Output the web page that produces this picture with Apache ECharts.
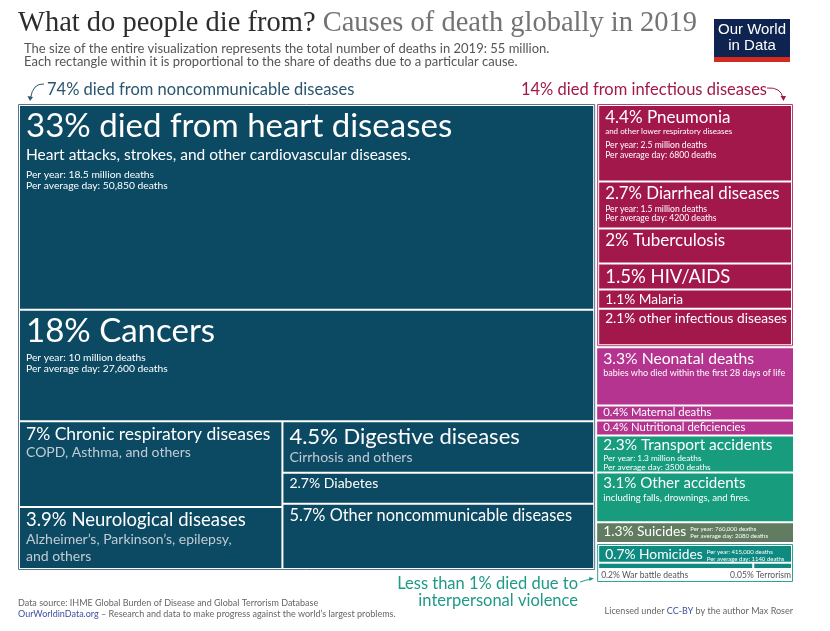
<!DOCTYPE html>
<html>
<head>
<meta charset="utf-8">
<script src="https://cdn.jsdelivr.net/npm/echarts@6/dist/echarts.min.js"></script>
<style>
  html, body { margin: 0; padding: 0; background: #fff; }
  #main { width: 830px; height: 631px; }
</style>
</head>
<body>
<div id="main"></div>
<script>
// share of global deaths in 2019, in %
const ncdNames = ['died from heart diseases', 'Cancers', 'Chronic respiratory diseases', 'Neurological diseases', 'Digestive diseases', 'Diabetes', 'Other noncommunicable diseases'];
const ncdShares = [33, 18, 7, 3.9, 4.5, 2.7, 5.7];
const ncdSubs = ['Heart attacks, strokes, and other cardiovascular diseases.', '', 'COPD, Asthma, and others', 'Alzheimer’s, Parkinson’s, epilepsy,\nand others', 'Cirrhosis and others', '', ''];
const ncdNotes = ['Per year: 18.5 million deaths\nPer average day: 50,850 deaths', 'Per year: 10 million deaths\nPer average day: 27,600 deaths', '', '', '', '', ''];

const infNames = ['Pneumonia', 'Diarrheal diseases', 'Tuberculosis', 'HIV/AIDS', 'Malaria', 'other infectious diseases'];
const infShares = [4.4, 2.7, 2, 1.5, 1.1, 2.1];
const infSubs = ['and other lower respiratory diseases', '', '', '', '', ''];
const infNotes = ['Per year: 2.5 million deaths\nPer average day: 6800 deaths', 'Per year: 1.5 million deaths\nPer average day: 4200 deaths', '', '', '', ''];

const matNames = ['Neonatal deaths', 'Maternal deaths', 'Nutritional deficiencies'];
const matShares = [3.3, 0.4, 0.4];
const matSubs = ['babies who died within the first 28 days of life', '', ''];

const injNames = ['Transport accidents', 'Other accidents', 'Suicides'];
const injShares = [2.3, 3.1, 1.3];
const injSubs = ['', 'including falls, drownings, and fires.', ''];
const injNotes = ['Per year: 1.3 million deaths\nPer average day: 3500 deaths', '', 'Per year: 760,000 deaths\nPer average day: 2080 deaths'];

const vioNames = ['Homicides', 'War battle deaths', 'Terrorism'];
const vioShares = [0.7, 0.2, 0.05];
const vioNotes = ['Per year: 415,000 deaths\nPer average day: 1140 deaths', '', ''];

const COLORS = {
  ncd: '#0c4962', inf: '#a3184b', mat: '#b5348f', inj: '#179c7e', sui: '#617c60', vio: '#0f8a80',
  ncdFrame: '#52768c', infFrame: '#c13a74', vioFrame: '#2aa493'
};

// label sizes per cause
const LABEL = {
  'died from heart diseases': { t: 33, s: 15.5, n: 10.3, sc: '#fff' },
  'Cancers': { t: 33, n: 10.3 },
  'Chronic respiratory diseases': { t: 17.5, s: 14 },
  'Neurological diseases': { t: 18.5, s: 14 },
  'Digestive diseases': { t: 22, s: 14 },
  'Diabetes': { t: 14 },
  'Other noncommunicable diseases': { t: 16.4 },
  'Pneumonia': { t: 17, s: 8, n: 8.6, sc: '#fff' },
  'Diarrheal diseases': { t: 16.8, n: 8.6 },
  'Tuberculosis': { t: 17 },
  'HIV/AIDS': { t: 18.5 },
  'Malaria': { t: 13.7 },
  'other infectious diseases': { t: 13.7 },
  'Neonatal deaths': { t: 15.7, s: 9, sc: '#fff' },
  'Maternal deaths': { t: 11.3, pt: 0.5 },
  'Nutritional deficiencies': { t: 11.3, pt: 0.5 },
  'Transport accidents': { t: 15.4, n: 8.3, pt: 0.5, tf: 1 },
  'Other accidents': { t: 15.1, s: 9.5, sc: '#fff' },
  'Suicides': { t: 13.8, n: 6, inline: true, pt: 1.5 },
  'Homicides': { t: 13.8, n: 6, inline: true, pt: 1.5 },
  'War battle deaths': { t: 8.5, below: 'left' },
  'Terrorism': { t: 8.5, below: 'right' }
};

const leaf = (name, value, sub, notes, color) => ({ name, value, sub: sub || '', notes: notes || '', color });
const ncd = ncdNames.map((n, i) => leaf(n, ncdShares[i], ncdSubs[i], ncdNotes[i], COLORS.ncd));
const inf = infNames.map((n, i) => leaf(n, infShares[i], infSubs[i], infNotes[i], COLORS.inf));
const mat = matNames.map((n, i) => leaf(n, matShares[i], matSubs[i], '', COLORS.mat));
const inj = injNames.map((n, i) => leaf(n, injShares[i], injSubs[i], injNotes[i], i === 2 ? COLORS.sui : COLORS.inj));
const vio = vioNames.map((n, i) => leaf(n, vioShares[i], '', vioNotes[i], COLORS.vio));

// small boxes get a minimum height so their label fits
ncd[3].min = 62;
mat[1].min = 15;
mat[2].min = 15;

const tree = {
  dir: 'x', children: [
    { frame: COLORS.ncdFrame, pad: 2, dir: 'y', children: [
      ncd[0], ncd[1],
      { dir: 'x', children: [
        { dir: 'y', children: [ncd[2], ncd[3]] },
        { dir: 'y', children: [ncd[4], ncd[5], ncd[6]] }
      ] }
    ] },
    { dir: 'y', children: [
      { frame: COLORS.infFrame, pad: 2, dir: 'y', children: inf },
      mat[0], mat[1], mat[2],
      { dir: 'y', children: [
        inj[0], inj[1], inj[2],
        { frame: COLORS.vioFrame, pad: 2, extra: 12, min: 28, dir: 'y', children: [
          vio[0], { dir: 'x', children: [vio[1], vio[2]] }
        ] }
      ] }
    ] }
  ]
};

const W = 777, H = 468;

function total(n) {
  if (n.children) n.value = n.children.reduce((a, c) => a + total(c), 0);
  return n.value;
}
function sizes(children, len) {
  const all = children.reduce((a, c) => a + c.value, 0);
  const locked = children.map(c => c.min && c.value / all * len < c.min);
  const lockedLen = children.reduce((a, c, i) => a + (locked[i] ? c.min : 0), 0);
  const freeVal = children.reduce((a, c, i) => a + (locked[i] ? 0 : c.value), 0);
  return children.map((c, i) => locked[i] ? c.min : c.value / freeVal * (len - lockedLen));
}
const items = [];
function layout(node, x0, y0, x1, y1) {
  node.rect = [x0, y0, x1, y1];
  if (!node.children) { items.push(node); return; }
  if (node.frame) items.unshift(node);
  const p = node.pad || 0;
  x0 += p; y0 += p; x1 -= p; y1 -= p;
  const sz = sizes(node.children, node.dir === 'x' ? x1 - x0 : y1 - y0);
  let pos = node.dir === 'x' ? x0 : y0;
  node.children.forEach((c, i) => {
    if (node.dir === 'x') layout(c, pos, y0, pos + sz[i], y1);
    else layout(c, x0, pos, x1, pos + sz[i]);
    pos += sz[i];
  });
}
total(tree);
layout(tree, 0, 0, W, H);

const ctx = document.createElement('canvas').getContext('2d');
function textWidth(t, size) {
  ctx.font = size + 'px Lato';
  return ctx.measureText(t).width;
}

function renderItem(params, api) {
  const it = items[api.value(4)];
  const a = api.coord([api.value(0), api.value(1)]);
  const b = api.coord([api.value(2), api.value(3)]);
  if (it.frame) {
    return {
      type: 'rect',
      shape: { x: a[0] + 1.5, y: a[1] + 1.5, width: b[0] - a[0] - 3, height: b[1] - a[1] - 3 + (it.extra || 0) },
      style: { fill: 'none', stroke: it.frame, lineWidth: 1 }
    };
  }
  const x = a[0] + 1, y = a[1] + 1, w = b[0] - a[0] - 2, h = b[1] - a[1] - 2;
  const st = LABEL[it.name];
  const title = it.value + '% ' + it.name;
  const kids = [{ type: 'rect', shape: { x, y, width: w, height: h }, style: { fill: it.color } }];
  if (st.below) {
    kids.push({ type: 'text', style: {
      x: st.below === 'left' ? x + 2 : x + w, y: y + h + 3, text: title, fill: '#555',
      fontSize: st.t, fontFamily: 'Lato', align: st.below, verticalAlign: 'top'
    } });
    return { type: 'group', children: kids };
  }
  const tx = x + 6;
  let ty = y + (st.pt != null ? st.pt : 1 + st.t * 0.1);
  kids.push({ type: 'text', style: { x: tx, y: ty, text: title, fill: '#fff', fontSize: st.t, fontFamily: 'Lato', verticalAlign: 'top' } });
  if (st.inline) {
    kids.push({ type: 'text', style: {
      x: tx + textWidth(title, st.t) + 4, y: ty + 1, text: it.notes, fill: '#fff',
      fontSize: st.n, lineHeight: st.n * 1.15, fontFamily: 'Lato', verticalAlign: 'top'
    } });
    return { type: 'group', children: kids };
  }
  ty += st.t * (st.tf || 1.08);
  if (it.sub) {
    const lines = it.sub.split('\n').length;
    kids.push({ type: 'text', style: {
      x: tx, y: ty, text: it.sub, fill: st.sc || '#c1ccd4', fontSize: st.s,
      lineHeight: st.s * 1.2, fontFamily: 'Lato', verticalAlign: 'top'
    } });
    ty += lines * st.s * 1.2 + 4;
  } else {
    ty += 1;
  }
  if (it.notes) {
    kids.push({ type: 'text', style: {
      x: tx, y: ty, text: it.notes, fill: '#fff', fontSize: st.n,
      lineHeight: st.n * 1.1, fontFamily: 'Lato', verticalAlign: 'top'
    } });
  }
  return { type: 'group', children: kids };
}

const curve = (x1, y1, cx, cy, x2, y2, color) => ({
  type: 'bezierCurve', shape: { x1, y1, cpx1: cx, cpy1: cy, x2, y2 },
  style: { fill: 'none', stroke: color, lineWidth: 1 }
});

const chart = echarts.init(document.getElementById('main'));
chart.setOption({
  animation: false,
  backgroundColor: '#fff',
  grid: { left: 17, top: 103, width: W, height: H },
  xAxis: { type: 'value', min: 0, max: W, show: false },
  yAxis: { type: 'value', min: 0, max: H, inverse: true, show: false },
  series: [{
    type: 'custom',
    coordinateSystem: 'cartesian2d',
    renderItem: renderItem,
    clip: false,
    encode: { x: [0, 2], y: [1, 3] },
    data: items.map((n, i) => [n.rect[0], n.rect[1], n.rect[2], n.rect[3], i])
  }],
  graphic: [
    { type: 'text', style: {
      x: 18, y: 9.5, text: '{a|What do people die from? }{b|Causes of death globally in 2019}',
      rich: {
        a: { fontFamily: 'Liberation Serif', fontSize: 28.5, fill: '#2d2d2d' },
        b: { fontFamily: 'Liberation Serif', fontSize: 28.5, fill: '#737373' }
      }
    } },
    { type: 'text', style: {
      x: 24, y: 42, text: 'The size of the entire visualization represents the total number of deaths in 2019: 55 million.\nEach rectangle within it is proportional to the share of deaths due to a particular cause.',
      fill: '#555', fontSize: 13, lineHeight: 13.5, fontFamily: 'Lato'
    } },
    { type: 'rect', shape: { x: 714, y: 19, width: 76, height: 38 }, style: { fill: '#0f2350' } },
    { type: 'rect', shape: { x: 714, y: 57, width: 76, height: 5 }, style: { fill: '#d42b21' } },
    { type: 'text', style: {
      x: 752, y: 22, text: 'Our World\nin Data', fill: '#fff', fontSize: 15, lineHeight: 16,
      fontFamily: 'Liberation Sans', align: 'center'
    } },
    { type: 'text', style: {
      x: 47, y: 81, text: '74% died from noncommunicable diseases', fill: '#2a5571', fontSize: 16.5, fontFamily: 'Lato'
    } },
    curve(44, 84, 33, 83, 30.5, 98, '#2a5571'),
    { type: 'polygon', shape: { points: [[27.5, 96], [33, 97], [30, 101]] }, style: { fill: '#2a5571' } },
    { type: 'text', style: {
      x: 767, y: 81, text: '14% died from infectious diseases', fill: '#a3184b', fontSize: 16.5, fontFamily: 'Lato', align: 'right'
    } },
    curve(767, 88, 781, 87, 783, 98, '#a3184b'),
    { type: 'polygon', shape: { points: [[780.5, 96], [786, 96], [783.5, 101]] }, style: { fill: '#a3184b' } },
    { type: 'text', style: {
      x: 578, y: 575, text: 'Less than 1% died due to\ninterpersonal violence', fill: '#1f9a86', fontSize: 16.5,
      lineHeight: 17, fontFamily: 'Lato', align: 'right'
    } },
    curve(580, 582, 586, 580, 591, 579, '#1f9a86'),
    { type: 'polygon', shape: { points: [[589, 577], [594, 578.5], [589.5, 581]] }, style: { fill: '#1f9a86' } },
    { type: 'text', style: {
      x: 18, y: 598, text: 'Data source: IHME Global Burden of Disease and Global Terrorism Database\n{l|OurWorldinData.org} – Research and data to make progress against the world’s largest problems.',
      fill: '#666', fontSize: 9, lineHeight: 10.5, fontFamily: 'Lato',
      rich: { l: { fill: '#3d4fa1', fontSize: 9, fontFamily: 'Lato' } }
    } },
    { type: 'text', style: {
      x: 793, y: 607, text: 'Licensed under {l|CC-BY} by the author Max Roser', fill: '#666', fontSize: 9,
      fontFamily: 'Lato', align: 'right',
      rich: { l: { fill: '#3d4fa1', fontSize: 9, fontFamily: 'Lato' } }
    } }
  ]
});
</script>
</body>
</html>
